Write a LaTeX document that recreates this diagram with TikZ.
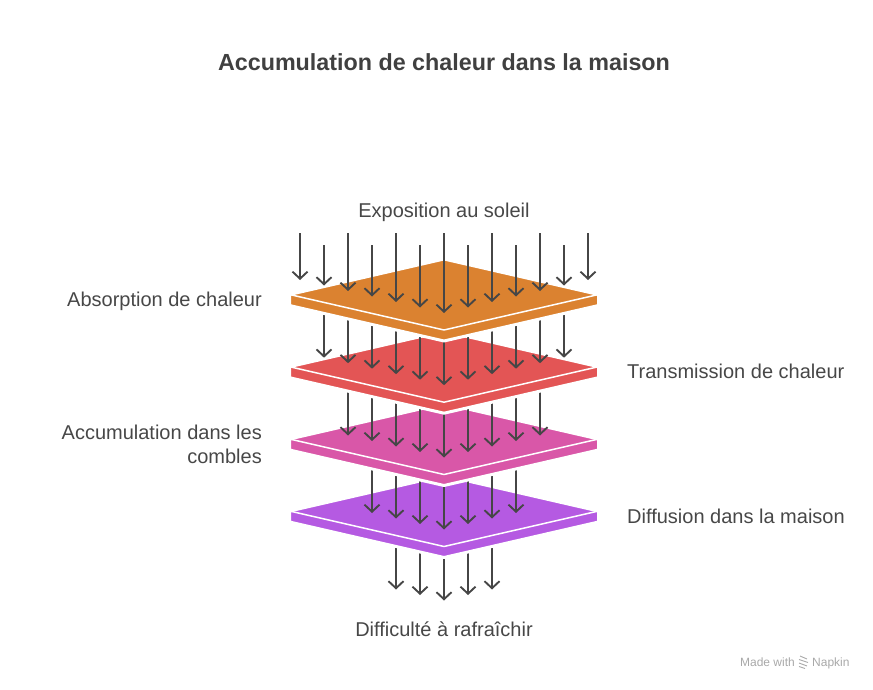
\documentclass[tikz,border=0pt]{standalone}
\usepackage{fontspec}
\setmainfont{Liberation Sans}
\usetikzlibrary{arrows.meta}
\definecolor{cOrange}{HTML}{DB8230}
\definecolor{cRed}{HTML}{E35555}
\definecolor{cPink}{HTML}{D957A8}
\definecolor{cPurple}{HTML}{B55AE2}
\definecolor{arrowc}{HTML}{464646}
\definecolor{txt}{HTML}{474747}
\definecolor{titlec}{HTML}{404040}
\definecolor{wm}{HTML}{A8A8A8}
\newcommand\drawslab[2]{%
  \filldraw[fill=#2,draw=white,line width=3pt,line join=round]
    (289.5,#1) -- (444,#1-35.5) -- (598.5,#1) -- (598.5,#1+11) -- (444,#1+46.5) -- (289.5,#1+11) -- cycle;
  \draw[white,line width=1.5pt,line join=round] (289.5,#1) -- (444,#1+35.5) -- (598.5,#1);
}
\begin{document}
\begin{tikzpicture}[x=1pt,y=-1pt,
  arr/.style={draw=arrowc,line width=1.9pt,-{Straight Barb[length=7pt,width=15pt]}},
  lbl/.style={text=txt,font=\fontsize{20}{24}\selectfont,inner sep=0pt}]
\useasboundingbox (0,0) rectangle (873,690);
% group 5 (below purple)
\foreach \k in {-2,...,2} {
  \pgfmathsetmacro\xx{444+24*\k}
  \pgfmathsetmacro\yt{600.5-5.5*abs(\k)}
  \draw[arr] (\xx,511) -- (\xx,\yt);
}
\drawslab{511}{cPurple}
\foreach \k in {-3,...,3} {
  \pgfmathsetmacro\xx{444+24*\k}
  \pgfmathsetmacro\yt{511+18.5-5.5*abs(\k)}
  \draw[arr] (\xx,439) -- (\xx,\yt);
}
\drawslab{439}{cPink}
\foreach \k in {-4,...,4} {
  \pgfmathsetmacro\xx{444+24*\k}
  \pgfmathsetmacro\yt{439+18.5-5.5*abs(\k)}
  \draw[arr] (\xx,366.7) -- (\xx,\yt);
}
\drawslab{366.7}{cRed}
\foreach \k in {-5,...,5} {
  \pgfmathsetmacro\xx{444+24*\k}
  \pgfmathsetmacro\yt{366.7+18.5-5.5*abs(\k)}
  \draw[arr] (\xx,294.5) -- (\xx,\yt);
}
\drawslab{294.5}{cOrange}
\foreach \k in {-6,...,6} {
  \pgfmathsetmacro\xx{444+24*\k}
  \pgfmathsetmacro\yt{294.5+18.5-5.5*abs(\k)}
  \pgfmathsetmacro\ys{isodd(\k) ? 245 : 233}
  \draw[arr] (\xx,\ys) -- (\xx,\yt);
}
% labels
\node[font=\fontsize{23.3}{27}\selectfont\bfseries,text=titlec,inner sep=0pt,anchor=base] (title) at (444,71) {Accumulation de chaleur dans la maison};
\node[lbl,anchor=base] (expo) at (444,217) {Exposition au soleil};
\node[lbl,anchor=base east] (abs) at (262,306) {Absorption de chaleur};
\node[lbl,anchor=base west] (trans) at (627,378) {Transmission de chaleur};
\node[lbl,anchor=base east,align=right] (acc) at (262,463) {Accumulation dans les\\combles};
\node[lbl,anchor=base west] (diff) at (627,523) {Diffusion dans la maison};
\node[lbl,anchor=base] (diffi) at (444,636) {Difficulté à rafraîchir};
% watermark
\node[text=wm,font=\fontsize{12}{14}\selectfont,inner sep=0pt,anchor=base east] (made) at (795,666) {Made with};
\node[text=wm,font=\fontsize{12}{14}\selectfont,inner sep=0pt,anchor=base west] (napkin) at (812,666) {Napkin};
\draw[wm,line width=0.9pt] (800,656) -- (807,659) (799,659.5) -- (808,662.5) (799,663) -- (807,666) (799,666.5) -- (805,668.5);
\end{tikzpicture}
\end{document}
